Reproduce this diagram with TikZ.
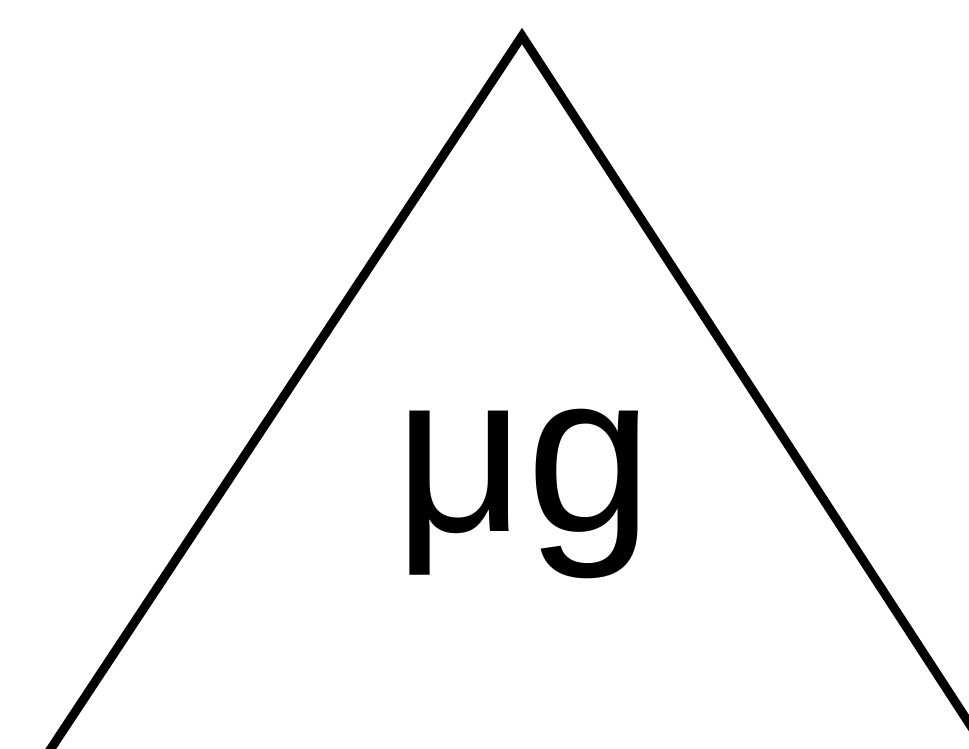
\documentclass[tikz,border=0pt]{standalone}
\usepackage{fontspec}
\setmainfont{Liberation Sans}
\begin{document}
\begin{tikzpicture}[x=1pt,y=-1pt,
  tri/.style={draw=black,line width=9pt,line join=miter},
  lbl/.style={anchor=base,inner sep=0pt,font=\fontsize{228}{236}\selectfont}]
\useasboundingbox (0,0) rectangle (969,748);
\clip (0,0) rectangle (969,748);
\coordinate (apex) at (522,36);
\coordinate (right) at (1019,800);
\coordinate (leftfoot) at (17,800);
\draw[tri] (leftfoot) -- (apex) -- (right);
\node[lbl] (t) at (524,531) {μg};
\end{tikzpicture}
\end{document}
